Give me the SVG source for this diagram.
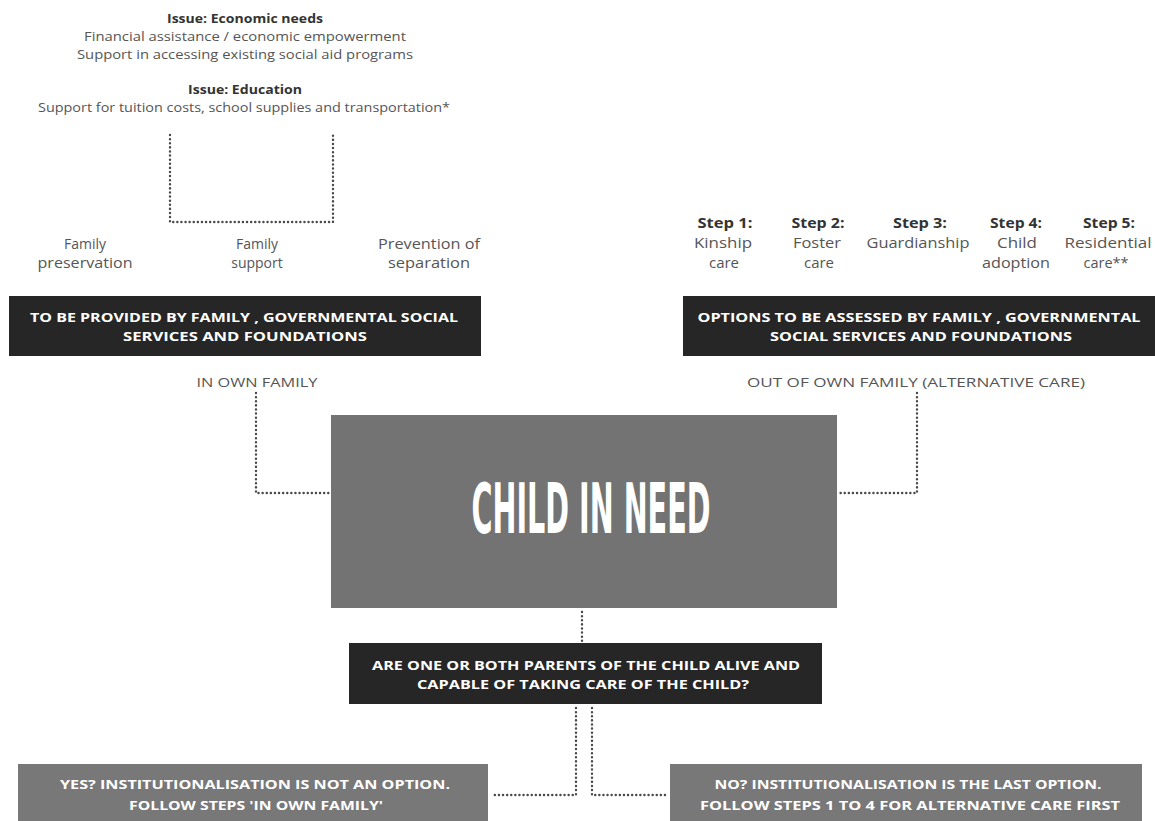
<svg xmlns="http://www.w3.org/2000/svg" width="1155" height="821" viewBox="0 0 1155 821">
<style>
.t{font-family:"Open Sans","Noto Sans","Liberation Sans",sans-serif;fill:#555;text-anchor:middle}
.h{font-family:"Open Sans","Noto Sans","Liberation Sans",sans-serif;fill:#333;font-weight:700;text-anchor:middle}
.w{font-family:"Open Sans","Noto Sans","Liberation Sans",sans-serif;fill:#fff;font-weight:700;text-anchor:middle;font-size:13px}
.dark{fill:#262626}
.grey{fill:#737373}
.grey2{fill:#787878}
.dot{fill:none;stroke:#4a4a4a;stroke-width:2.4;stroke-linecap:round;stroke-dasharray:0.1 4}
</style>
<rect width="1155" height="821" fill="#fff"/>
<g id="top-text">
<text class="h" x="245" y="23" font-size="12" textLength="156" lengthAdjust="spacingAndGlyphs">Issue: Economic needs</text>
<text class="t" x="245" y="41" font-size="12" textLength="322" lengthAdjust="spacingAndGlyphs">Financial assistance / economic empowerment</text>
<text class="t" x="245" y="59" font-size="12" textLength="336" lengthAdjust="spacingAndGlyphs">Support in accessing existing social aid programs</text>
<text class="h" x="245" y="94" font-size="12" textLength="114" lengthAdjust="spacingAndGlyphs">Issue: Education</text>
<text class="t" x="244" y="112" font-size="12" textLength="412" lengthAdjust="spacingAndGlyphs">Support for tuition costs, school supplies and transportation*</text>
</g>
<g id="connectors">
<path class="dot" d="M170,135 V222 H333 V135"/>
<path class="dot" d="M256,393 V493 H331"/>
<path class="dot" d="M917,393 V493 H837"/>
<path class="dot" d="M582,612 V643"/>
<path class="dot" d="M576,708 V795 H494"/>
<path class="dot" d="M592,708 V795 H668"/>
</g>
<g id="family-labels">
<text class="t" x="85" y="249" font-size="14">Family</text>
<text class="t" x="85" y="268" font-size="14" textLength="95" lengthAdjust="spacingAndGlyphs">preservation</text>
<text class="t" x="257" y="249" font-size="14">Family</text>
<text class="t" x="257" y="268" font-size="14">support</text>
<text class="t" x="429" y="249" font-size="14" textLength="102" lengthAdjust="spacingAndGlyphs">Prevention of</text>
<text class="t" x="429" y="268" font-size="14" textLength="82" lengthAdjust="spacingAndGlyphs">separation</text>
</g>
<g id="provided-box">
<rect class="dark" x="9" y="296" width="472" height="60"/>
<text class="w" x="244" y="322" textLength="428" lengthAdjust="spacingAndGlyphs">TO BE PROVIDED BY FAMILY , GOVERNMENTAL SOCIAL</text>
<text class="w" x="245" y="341" textLength="244" lengthAdjust="spacingAndGlyphs">SERVICES AND  FOUNDATIONS</text>
</g>
<text id="in-own-family" class="t" x="257" y="387" font-size="13" textLength="121" lengthAdjust="spacingAndGlyphs">IN OWN FAMILY</text>
<g id="steps">
<text class="h" x="725" y="228" font-size="14" textLength="55" lengthAdjust="spacingAndGlyphs">Step 1:</text>
<text class="t" x="723" y="248" font-size="14" textLength="58" lengthAdjust="spacingAndGlyphs">Kinship</text>
<text class="t" x="724" y="268" font-size="14" textLength="30" lengthAdjust="spacingAndGlyphs">care</text>
<text class="h" x="818" y="228" font-size="14" textLength="53" lengthAdjust="spacingAndGlyphs">Step 2:</text>
<text class="t" x="817" y="248" font-size="14" textLength="48" lengthAdjust="spacingAndGlyphs">Foster</text>
<text class="t" x="819" y="268" font-size="14" textLength="30" lengthAdjust="spacingAndGlyphs">care</text>
<text class="h" x="920" y="228" font-size="14" textLength="54" lengthAdjust="spacingAndGlyphs">Step 3:</text>
<text class="t" x="918" y="248" font-size="14" textLength="103" lengthAdjust="spacingAndGlyphs">Guardianship</text>
<text class="h" x="1016" y="228" font-size="14" textLength="52" lengthAdjust="spacingAndGlyphs">Step 4:</text>
<text class="t" x="1017" y="248" font-size="14" textLength="40" lengthAdjust="spacingAndGlyphs">Child</text>
<text class="t" x="1016" y="268" font-size="14" textLength="68" lengthAdjust="spacingAndGlyphs">adoption</text>
<text class="h" x="1109" y="228" font-size="14" textLength="52" lengthAdjust="spacingAndGlyphs">Step 5:</text>
<text class="t" x="1108" y="248" font-size="14" textLength="87" lengthAdjust="spacingAndGlyphs">Residential</text>
<text class="t" x="1106" y="268" font-size="14" textLength="45" lengthAdjust="spacingAndGlyphs">care**</text>
</g>
<g id="options-box">
<rect class="dark" x="683" y="296" width="472" height="60"/>
<text class="w" x="919" y="322" textLength="443" lengthAdjust="spacingAndGlyphs">OPTIONS TO BE ASSESSED BY FAMILY , GOVERNMENTAL</text>
<text class="w" x="921" y="341" textLength="302" lengthAdjust="spacingAndGlyphs">SOCIAL SERVICES AND  FOUNDATIONS</text>
</g>
<text id="out-of-family" class="t" x="916" y="387" font-size="13" textLength="338" lengthAdjust="spacingAndGlyphs">OUT OF OWN FAMILY (ALTERNATIVE CARE)</text>
<g id="child-in-need">
<rect class="grey" x="331" y="415" width="506" height="193"/>
<text x="591" y="533" font-family="'DejaVu Sans Condensed','Liberation Sans',sans-serif" font-weight="700" font-size="70" fill="#fff" text-anchor="middle" textLength="239" lengthAdjust="spacingAndGlyphs">CHILD IN NEED</text>
</g>
<g id="question">
<rect class="dark" x="349" y="643" width="473" height="61"/>
<text class="w" x="586" y="670" textLength="428" lengthAdjust="spacingAndGlyphs">ARE ONE OR BOTH PARENTS OF THE CHILD ALIVE AND</text>
<text class="w" x="583" y="689" textLength="332" lengthAdjust="spacingAndGlyphs">CAPABLE OF TAKING CARE OF THE CHILD?</text>
</g>
<g id="yes-box">
<rect class="grey2" x="18" y="764" width="470" height="57"/>
<text class="w" x="255" y="789" textLength="390" lengthAdjust="spacingAndGlyphs">YES? INSTITUTIONALISATION IS NOT AN OPTION.</text>
<text class="w" x="256" y="810" textLength="254" lengthAdjust="spacingAndGlyphs">FOLLOW STEPS 'IN OWN FAMILY'</text>
</g>
<g id="no-box">
<rect class="grey2" x="670" y="764" width="472" height="57"/>
<text class="w" x="908" y="789" textLength="387" lengthAdjust="spacingAndGlyphs">NO? INSTITUTIONALISATION IS THE LAST OPTION.</text>
<text class="w" x="910" y="810" textLength="420" lengthAdjust="spacingAndGlyphs">FOLLOW STEPS 1 TO 4 FOR ALTERNATIVE CARE FIRST</text>
</g>
</svg>
